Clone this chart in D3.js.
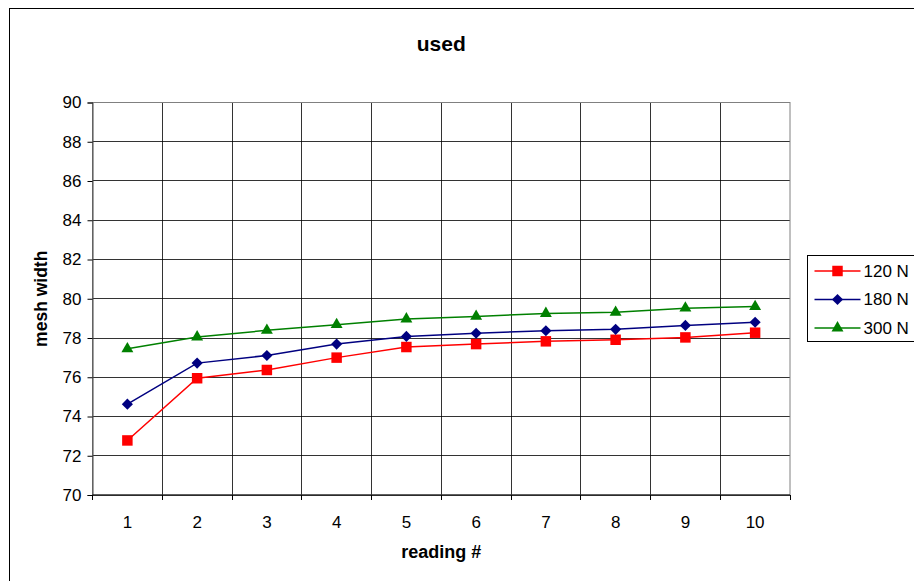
<!DOCTYPE html>
<html>
<head>
<meta charset="utf-8">
<script src="https://cdn.jsdelivr.net/npm/d3@7"></script>
<style>
  body { margin: 0; background: #fff; }
  svg { display: block; font-family: "Liberation Sans", Arial, sans-serif; }
</style>
</head>
<body>
<div id="chart"></div>
<script>
// readings and series values
var readings = ["1", "2", "3", "4", "5", "6", "7", "8", "9", "10"];
var yTicks = [70, 72, 74, 76, 78, 80, 82, 84, 86, 88, 90];
var seriesNames = ["120 N", "180 N", "300 N"];
var values120 = [72.78, 75.95, 76.37, 77.0, 77.54, 77.69, 77.83, 77.91, 78.03, 78.27];
var values180 = [74.63, 76.72, 77.11, 77.69, 78.08, 78.24, 78.37, 78.44, 78.64, 78.8];
var values300 = [77.45, 78.05, 78.39, 78.68, 78.97, 79.1, 79.25, 79.31, 79.52, 79.6];

var width = 914, height = 581,
    margin = { top: 102.5, right: 124, bottom: 86, left: 92.5 };

// diamonds are squares turned 45 degrees
var series = [
  { name: seriesNames[0], values: values120, color: "#ff0000", shape: d3.symbolSquare, size: 110, rot: 0 },
  { name: seriesNames[1], values: values180, color: "#000080", shape: d3.symbolSquare, size: 62, rot: 45 },
  { name: seriesNames[2], values: values300, color: "#008000", shape: d3.symbolTriangle, size: 62, rot: 0 }
];

var svg = d3.select("#chart").append("svg")
    .attr("width", width)
    .attr("height", height);

// outer chart frame
svg.append("rect")
    .attr("x", 9.5).attr("y", 8.5)
    .attr("width", width + 10).attr("height", height + 10)
    .attr("fill", "none").attr("stroke", "#000");

var innerW = width - margin.left - margin.right,
    innerH = height - margin.top - margin.bottom;

var x = d3.scaleBand().domain(readings).range([0, innerW]);
var y = d3.scaleLinear().domain([70, 90]).range([innerH, 0]);

var g = svg.append("g")
    .attr("transform", "translate(" + margin.left + "," + margin.top + ")");

// horizontal gridlines
g.append("g").selectAll("line")
    .data(yTicks)
  .enter().append("line")
    .attr("x1", 0).attr("x2", innerW)
    .attr("y1", function(d) { return Math.round(y(d)); })
    .attr("y2", function(d) { return Math.round(y(d)); })
    .attr("stroke", "#000")
    .attr("stroke-opacity", 0.8);

// vertical gridlines at category boundaries
g.append("g").selectAll("line")
    .data(readings.slice(1))
  .enter().append("line")
    .attr("x1", function(d) { return Math.round(x(d)); })
    .attr("x2", function(d) { return Math.round(x(d)); })
    .attr("y1", 0).attr("y2", innerH)
    .attr("stroke", "#000")
    .attr("stroke-opacity", 0.8);

// plot border
g.append("rect")
    .attr("width", innerW).attr("height", innerH)
    .attr("fill", "none").attr("stroke", "#808080");

// y axis
var yAxis = g.append("g")
    .call(d3.axisLeft(y).tickValues(yTicks).tickSize(5).tickPadding(6));
yAxis.select(".domain").attr("stroke", "#444");
yAxis.selectAll("text").style("font-size", "17px").attr("fill", "#000");

// x axis: ticks at boundaries, labels centred in bands
var xAxis = g.append("g")
    .attr("transform", "translate(0," + innerH + ")");
xAxis.append("line")
    .attr("x1", 0).attr("x2", innerW)
    .attr("stroke", "#000");
xAxis.selectAll("line.tick")
    .data(readings.concat(["end"]))
  .enter().append("line")
    .attr("class", "tick")
    .attr("x1", function(d, i) { return Math.round(i * x.step()); })
    .attr("x2", function(d, i) { return Math.round(i * x.step()); })
    .attr("y1", 0).attr("y2", 5)
    .attr("stroke", "#000");
xAxis.selectAll("text")
    .data(readings)
  .enter().append("text")
    .attr("x", function(d) { return x(d) + x.bandwidth() / 2; })
    .attr("y", 33)
    .attr("text-anchor", "middle")
    .style("font-size", "17px")
    .text(function(d) { return d; });

// lines and markers
var line = d3.line()
    .x(function(d, i) { return x(readings[i]) + x.bandwidth() / 2; })
    .y(function(d) { return y(d); });

series.forEach(function(s) {
  g.append("path")
      .datum(s.values)
      .attr("fill", "none")
      .attr("stroke", s.color)
      .attr("stroke-width", 1.5)
      .attr("d", line);
  g.append("g").selectAll("path")
      .data(s.values)
    .enter().append("path")
      .attr("transform", function(d, i) {
        return "translate(" + (x(readings[i]) + x.bandwidth() / 2) + "," + y(d) + ") rotate(" + s.rot + ")";
      })
      .attr("d", d3.symbol().type(s.shape).size(s.size))
      .attr("fill", s.color);
});

// titles
svg.append("text")
    .attr("x", margin.left + innerW / 2).attr("y", 51)
    .attr("text-anchor", "middle")
    .style("font-size", "21px").style("font-weight", "bold")
    .text("used");

svg.append("text")
    .attr("x", margin.left + innerW / 2).attr("y", 558)
    .attr("text-anchor", "middle")
    .style("font-size", "18px").style("font-weight", "bold")
    .text("reading #");

svg.append("text")
    .attr("transform", "translate(47," + (margin.top + innerH / 2) + ") rotate(-90)")
    .attr("text-anchor", "middle")
    .style("font-size", "17.5px").style("font-weight", "bold")
    .text("mesh width");

// legend
var legend = svg.append("g").attr("transform", "translate(807.5,255.5)");
legend.append("rect")
    .attr("width", 120).attr("height", 86)
    .attr("fill", "#fff").attr("stroke", "#000");
var items = legend.selectAll("g.item")
    .data(series)
  .enter().append("g")
    .attr("class", "item")
    .attr("transform", function(d, i) { return "translate(0," + (15.5 + i * 28.5) + ")"; });
items.append("line")
    .attr("x1", 7).attr("x2", 53)
    .attr("stroke", function(d) { return d.color; })
    .attr("stroke-width", 1.5);
items.append("path")
    .attr("transform", function(d) { return "translate(30,0) rotate(" + d.rot + ")"; })
    .attr("d", function(d) { return d3.symbol().type(d.shape).size(d.size)(); })
    .attr("fill", function(d) { return d.color; });
items.append("text")
    .attr("x", 56).attr("dy", "0.35em")
    .style("font-size", "17px")
    .text(function(d) { return d.name; });
</script>
</body>
</html>
